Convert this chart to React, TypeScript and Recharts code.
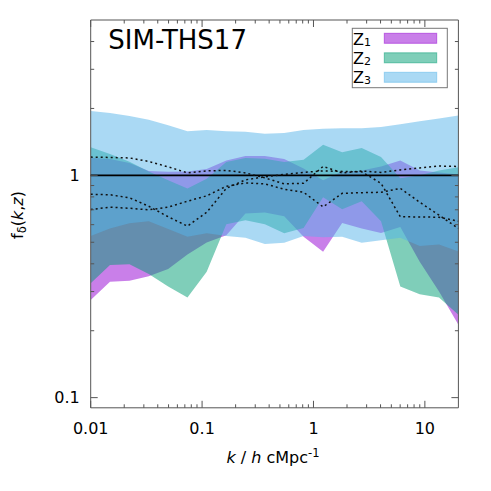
import React from 'react';
import { ComposedChart, Area, Line, XAxis, YAxis, ReferenceLine, ReferenceArea } from 'recharts';

// wavenumber bins k / h cMpc^-1
const kValues = [0.01, 0.0149, 0.0223, 0.0332, 0.0496, 0.0739, 0.110, 0.165, 0.245, 0.366, 0.546, 0.815, 1.22, 1.81, 2.71, 4.04, 6.02, 8.99, 13.4, 20];

// Z1 band
const z1Low = [0.275, 0.332, 0.336, 0.352, 0.379, 0.441, 0.499, 0.538, 0.673, 0.680, 0.655, 0.530, 0.453, 0.611, 0.577, 0.551, 0.586, 0.409, 0.300, 0.213];
const z1High = [1.200, 1.186, 1.137, 1.047, 1.037, 1.042, 1.069, 1.167, 1.223, 1.223, 1.186, 1.075, 0.950, 1.042, 1.053, 1.097, 1.167, 1.053, 1.031, 1.010];
// Z2 band
const z2Low = [0.327, 0.395, 0.398, 0.360, 0.316, 0.282, 0.368, 0.603, 0.628, 0.603, 0.549, 0.579, 0.797, 0.704, 0.765, 0.622, 0.316, 0.292, 0.282, 0.236];
const z2High = [1.339, 1.249, 1.150, 1.042, 0.950, 0.872, 0.966, 1.147, 1.196, 1.188, 1.147, 1.176, 1.373, 1.272, 1.328, 1.208, 0.970, 1.000, 1.053, 1.089];
// Z3 band
const z3Low = [0.533, 0.576, 0.609, 0.622, 0.573, 0.530, 0.549, 0.533, 0.524, 0.491, 0.498, 0.533, 0.527, 0.530, 0.498, 0.511, 0.524, 0.481, 0.488, 0.454];
const z3High = [1.95, 1.91, 1.85, 1.78, 1.68, 1.58, 1.60, 1.58, 1.57, 1.54, 1.55, 1.60, 1.62, 1.63, 1.63, 1.65, 1.70, 1.75, 1.80, 1.86];

// dotted curves
const lineA = [1.208, 1.204, 1.198, 1.155, 1.092, 1.026, 1.047, 1.053, 1.026, 0.974, 0.916, 0.921, 1.097, 1.026, 1.047, 1.031, 1.058, 1.080, 1.101, 1.097];
const lineB = [0.822, 0.818, 0.793, 0.726, 0.651, 0.591, 0.682, 0.874, 0.955, 0.985, 1.010, 1.031, 1.047, 1.042, 1.037, 0.921, 0.651, 0.650, 0.648, 0.622];
const lineC = [0.702, 0.719, 0.711, 0.700, 0.719, 0.765, 0.809, 0.893, 0.924, 0.916, 0.866, 0.839, 0.721, 0.830, 0.836, 0.839, 0.874, 0.757, 0.662, 0.577];

// axis ticks
const xTicks = [0.01, 0.02, 0.03, 0.04, 0.05, 0.06, 0.07, 0.08, 0.09, 0.1, 0.2, 0.3, 0.4, 0.5, 0.6, 0.7, 0.8, 0.9, 1, 2, 3, 4, 5, 6, 7, 8, 9, 10];
const xMajor = [0.01, 0.1, 1, 10];
const xLabels = ['0.01', '0.1', '1', '10'];
const yTicks = [0.1, 0.2, 0.3, 0.4, 0.5, 0.6, 0.7, 0.8, 0.9, 1, 2, 3, 4];
const yMajor = [0.1, 1];
const yLabels = ['0.1', '1'];

const legendNames = ['1', '2', '3'];
const bandColors = ['#9400D3', '#009E73', '#56B4E9'];

const data = kValues.map((k, i) => ({
  k,
  z1: [z1Low[i], z1High[i]],
  z2: [z2Low[i], z2High[i]],
  z3: [z3Low[i], z3High[i]],
  a: lineA[i],
  b: lineB[i],
  c: lineC[i],
}));

const W = 483;
const H = 483;
const MARGIN = { top: 12, right: 32.6, bottom: 53.2, left: 22.7 };
const Y_AXIS_W = 60;
const X_AXIS_H = 30;
const PLOT_W = W - MARGIN.left - MARGIN.right - Y_AXIS_W;
const PLOT_H = H - MARGIN.top - MARGIN.bottom - X_AXIS_H;
const FONT = 'DejaVu Sans, sans-serif';
const TICK_COLOR = '#555';

const XTick = (props: any) => {
  const { x, y, payload } = props;
  const idx = xMajor.findIndex((v) => Math.abs(v - payload.value) < 1e-9);
  const major = idx >= 0;
  const len = major ? 7 : 3.5;
  return (
    <g>
      <line x1={x} x2={x} y1={y} y2={y - len} stroke={TICK_COLOR} strokeWidth={1} />
      <line x1={x} x2={x} y1={y - PLOT_H} y2={y - PLOT_H + len} stroke={TICK_COLOR} strokeWidth={1} />
      {major && (
        <text x={x} y={y + 26.5} textAnchor="middle" fontFamily={FONT} fontSize={16} fill="#000">
          {xLabels[idx]}
        </text>
      )}
    </g>
  );
};

const YTick = (props: any) => {
  const { x, y, payload } = props;
  const idx = yMajor.findIndex((v) => Math.abs(v - payload.value) < 1e-9);
  const major = idx >= 0;
  const len = major ? 7 : 3.5;
  return (
    <g>
      <line x1={x} x2={x + len} y1={y} y2={y} stroke={TICK_COLOR} strokeWidth={1} />
      <line x1={x + PLOT_W} x2={x + PLOT_W - len} y1={y} y2={y} stroke={TICK_COLOR} strokeWidth={1} />
      {major && (
        <text x={x - 11} y={y + 5.8} textAnchor="end" fontFamily={FONT} fontSize={16} fill="#000">
          {yLabels[idx]}
        </text>
      )}
    </g>
  );
};

export default function App() {
  return (
    <div style={{ position: 'relative', width: W, height: H }}>
      <ComposedChart width={W} height={H} data={data} margin={MARGIN}>
        <XAxis
          dataKey="k"
          type="number"
          scale="log"
          domain={[0.01, 20]}
          allowDataOverflow
          ticks={xTicks}
          interval={0}
          tick={(p: any) => <XTick {...p} />}
          tickLine={false}
          axisLine={false}
          tickSize={0}
          tickMargin={0}
          height={X_AXIS_H}
        />
        <YAxis
          type="number"
          scale="log"
          domain={[0.09, 5]}
          allowDataOverflow
          ticks={yTicks}
          interval={0}
          tick={(p: any) => <YTick {...p} />}
          tickLine={false}
          axisLine={false}
          tickSize={0}
          tickMargin={0}
          width={Y_AXIS_W}
        />
        <Area dataKey="z1" type="linear" fill={bandColors[0]} fillOpacity={0.5} stroke="none" isAnimationActive={false} />
        <Area dataKey="z2" type="linear" fill={bandColors[1]} fillOpacity={0.5} stroke="none" isAnimationActive={false} />
        <Area dataKey="z3" type="linear" fill={bandColors[2]} fillOpacity={0.5} stroke="none" isAnimationActive={false} />
        <ReferenceLine y={1} stroke="#000" strokeWidth={1.8} />
        <Line dataKey="a" type="linear" stroke="#111" strokeWidth={1.5} strokeDasharray="2 3" dot={false} isAnimationActive={false} />
        <Line dataKey="b" type="linear" stroke="#111" strokeWidth={1.5} strokeDasharray="2 3" dot={false} isAnimationActive={false} />
        <Line dataKey="c" type="linear" stroke="#111" strokeWidth={1.5} strokeDasharray="2 3" dot={false} isAnimationActive={false} />
        <ReferenceArea x1={0.01} x2={20} y1={0.09} y2={5} fill="none" fillOpacity={0} stroke="#555" strokeWidth={1} ifOverflow="visible" />
      </ComposedChart>
      <svg width={W} height={H} style={{ position: 'absolute', left: 0, top: 0, pointerEvents: 'none' }}>
        <text x={100.3} y={41.3} fontFamily={FONT} fontSize={26} fill="#000">SIM-THS17</text>
        <rect x={344.3} y={20.3} width={95} height={59.4} fill="#fff" stroke="#777" strokeWidth={1} />
        {legendNames.map((n, i) => (
          <g key={n}>
            <text x={345} y={36.8 + i * 19} fontFamily={FONT} fontSize={16} fill="#000">
              Z<tspan fontSize={11} dy={1.2}>{n}</tspan>
            </text>
            <rect x={376.3} y={25.3 + i * 19.5} width={52.4} height={10} fill={bandColors[i]} fillOpacity={0.5} stroke={bandColors[i]} strokeOpacity={0.5} strokeWidth={1} />
          </g>
        ))}
        <text x={265} y={455.3} textAnchor="middle" fontFamily={FONT} fontSize={16} fill="#000">
          <tspan fontStyle="italic">k</tspan> / <tspan fontStyle="italic">h</tspan> cMpc<tspan fontSize={11.5} dy={-6.5}>-1</tspan>
        </text>
        <text transform={`translate(14.5, 207) rotate(-90)`} textAnchor="middle" fontFamily={FONT} fontSize={16} fill="#000">
          f<tspan fontSize={11.5} dy={3.5}>δ</tspan><tspan dy={-3.5}>(</tspan><tspan fontStyle="italic">k</tspan>,<tspan fontStyle="italic">z</tspan>)
        </text>
      </svg>
    </div>
  );
}
